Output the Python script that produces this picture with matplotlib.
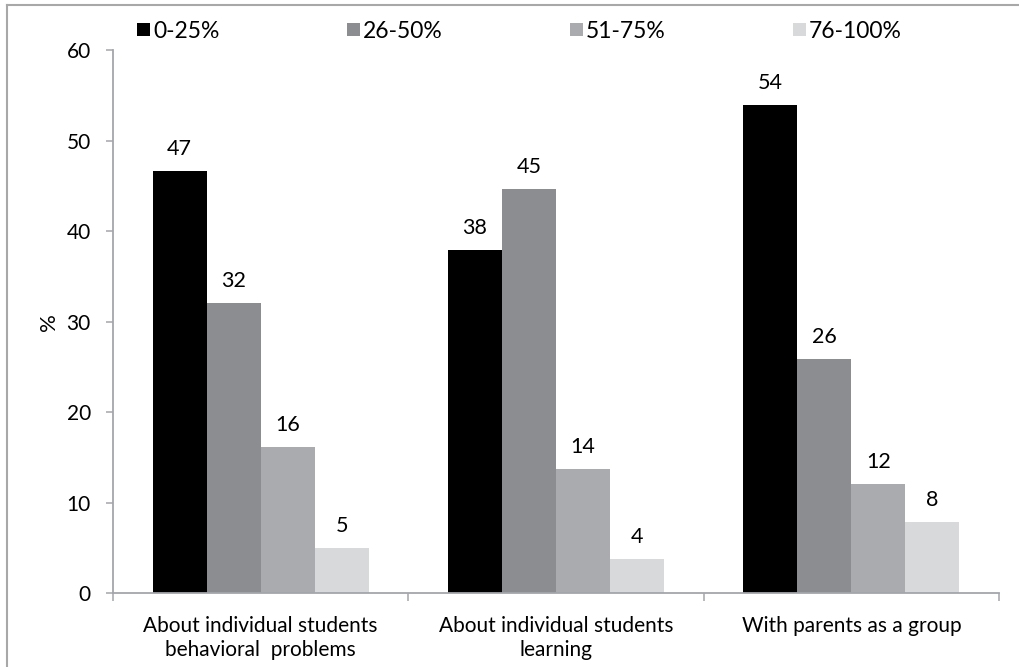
import matplotlib
matplotlib.use("Agg")
import matplotlib.pyplot as plt
import numpy as np
from matplotlib.patches import Rectangle
from matplotlib.lines import Line2D

categories = ["About individual students\nbehavioral  problems",
              "About individual students\nlearning",
              "With parents as a group"]
series_names = ["0-25%", "26-50%", "51-75%", "76-100%"]
s_0_25 = [46.6, 37.9, 53.9]
s_26_50 = [32.1, 44.6, 25.9]
s_51_75 = [16.2, 13.7, 12.1]
s_76_100 = [5.0, 3.8, 7.9]
label_0_25 = [47, 38, 54]
label_26_50 = [32, 45, 26]
label_51_75 = [16, 14, 12]
label_76_100 = [5, 4, 8]
yticks = [0, 10, 20, 30, 40, 50, 60]

series = [s_0_25, s_26_50, s_51_75, s_76_100]
labels = [label_0_25, label_26_50, label_51_75, label_76_100]
colors = ["#000000", "#8b8d91", "#a9abaf", "#d8d9db"]

plt.rcParams['font.family'] = ['Lato', 'DejaVu Sans']

W, H = 1019, 667
fig = plt.figure(figsize=(W / 100, H / 100), dpi=100)
ax = fig.add_axes([113 / W, (H - 593.3) / H, (999 - 113) / W, (593.3 - 50) / H])

x = np.arange(len(categories))
bw = 0.183
for i, (vals, labs, c) in enumerate(zip(series, labels, colors)):
    pos = x + (i - 1.5) * bw
    ax.bar(pos, vals, width=bw, color=c, edgecolor='none', zorder=2)
    for px, v, lab in zip(pos, vals, labs):
        ax.annotate(str(lab), (px, v), xytext=(0, 11.5), textcoords='offset points',
                    ha='center', va='baseline', fontsize=15.5, color='black')

spine_c = '#a3a6aa'
ax.set_xlim(-0.5, 2.5)
ax.set_ylim(0, 60)
ax.set_yticks(yticks)
ax.set_yticklabels([str(t) for t in yticks])
ax.set_xticks(x)
ax.set_xticklabels(categories, fontsize=15, linespacing=1.25)
ax.set_xticks([-0.5, 0.5, 1.5, 2.5], minor=True)
ax.tick_params(axis='x', which='major', length=0, pad=16)
ax.tick_params(axis='x', which='minor', length=6, width=1.1, color=spine_c, direction='out')
ax.tick_params(axis='y', which='major', length=5, width=1.1, color=spine_c,
               direction='out', labelsize=15, pad=11)
for s in ['top', 'right']:
    ax.spines[s].set_visible(False)
for s in ['left', 'bottom']:
    ax.spines[s].set_color(spine_c)
    ax.spines[s].set_linewidth(1.3)

fig.text(49.5 / W, 1 - 322 / H, "%", rotation=90, ha='center', va='center', fontsize=16)

# legend
leg_x = [137, 347, 570, 793]
for lx, name, c in zip(leg_x, series_names, colors):
    fig.patches.append(Rectangle((lx / W, 1 - 36 / H), 13 / W, 13 / H,
                                 transform=fig.transFigure, facecolor=c, edgecolor='none'))
    fig.text((lx + 16) / W, 1 - 32 / H, name, ha='left', va='center', fontsize=16.5)

# outer border (left and top visible)
bc = '#a8a8a8'
fig.add_artist(Line2D([7 / W, 7 / W], [0, 1 - 5 / H], transform=fig.transFigure, color=bc, lw=1.5))
fig.add_artist(Line2D([7 / W, 1], [1 - 5 / H, 1 - 5 / H], transform=fig.transFigure, color=bc, lw=1.5))

fig.savefig("out.png", dpi=100)
